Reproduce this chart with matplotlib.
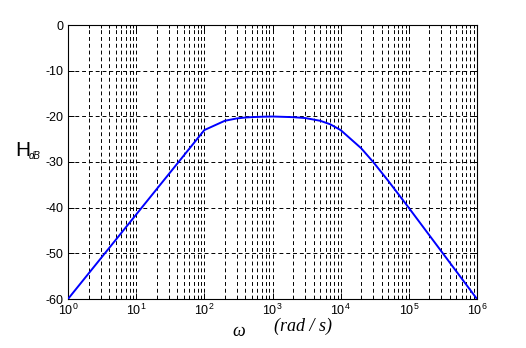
import matplotlib
matplotlib.use("Agg")
import matplotlib.pyplot as plt
from matplotlib.ticker import FixedLocator, NullFormatter

# Data
omega = [1, 100, 200, 300, 400, 500, 700, 1000,
         2000, 3000, 5000, 7000, 10000, 20000, 30000, 50000, 100000, 1000000]
h_db = [-60.0, -23.01, -20.97, -20.46, -20.26, -20.17, -20.09, -20.04,
        -20.18, -20.37, -20.97, -21.73, -23.01, -26.99, -30.0, -34.15,
        -40.04, -60.0]
yticks = [-60, -50, -40, -30, -20, -10, 0]
xexps = [0, 1, 2, 3, 4, 5, 6]

plt.rcParams['font.family'] = ['Liberation Sans', 'DejaVu Sans']
plt.rcParams['mathtext.fontset'] = 'custom'
plt.rcParams['mathtext.rm'] = 'Liberation Sans'
plt.rcParams['mathtext.it'] = 'Liberation Sans:italic'
plt.rcParams['axes.unicode_minus'] = False

fig = plt.figure(figsize=(5.26, 3.48), dpi=100)
ax = fig.add_axes([68/526, 1-299/348, (477-68)/526, (299-25)/348])

ax.plot(omega, h_db, color='#0000ff', lw=1.4, zorder=3)
ax.set_xscale('log')
ax.set_xlim(1, 1e6)
ax.set_ylim(-60, 0)
ax.set_yticks(yticks)
ax.set_yticklabels([str(v) for v in yticks])
ax.set_xticks([10.0 ** e for e in xexps])
ax.set_xticklabels([r'$\mathregular{10^{%d}}$' % e for e in xexps])
minors = [m * 10.0 ** e for e in xexps[:-1] for m in range(2, 10)]
ax.xaxis.set_minor_locator(FixedLocator(minors))
ax.xaxis.set_minor_formatter(NullFormatter())

gkw = dict(color='black', linestyle=(0, (4, 3)), linewidth=0.7)
ax.grid(True, which='major', axis='both', **gkw)
ax.grid(True, which='minor', axis='x', **gkw)

ax.tick_params(which='both', direction='in', top=True, right=True,
               labelsize=9, colors='black', width=0.7)
ax.tick_params(which='major', length=4, pad=3)
ax.tick_params(which='minor', length=2)
for s in ax.spines.values():
    s.set_linewidth(0.8)
    s.set_color('black')

fig.text(15/526, 1-151/348, 'H', fontsize=15, va='center', ha='left')
fig.text(29/526, 1-156/348, 'dB', fontsize=7, style='italic', va='center', ha='left')

fig.text(232/526, 1-332/348, 'ω', fontsize=13, style='italic',
         family=['Liberation Serif', 'DejaVu Serif'], va='center', ha='left')
fig.text(274/526, 1-326/348, '(rad / s)', fontsize=13, style='italic',
         family=['Liberation Serif', 'DejaVu Serif'], va='center', ha='left')

fig.savefig('out.png', dpi=100, facecolor='white')
